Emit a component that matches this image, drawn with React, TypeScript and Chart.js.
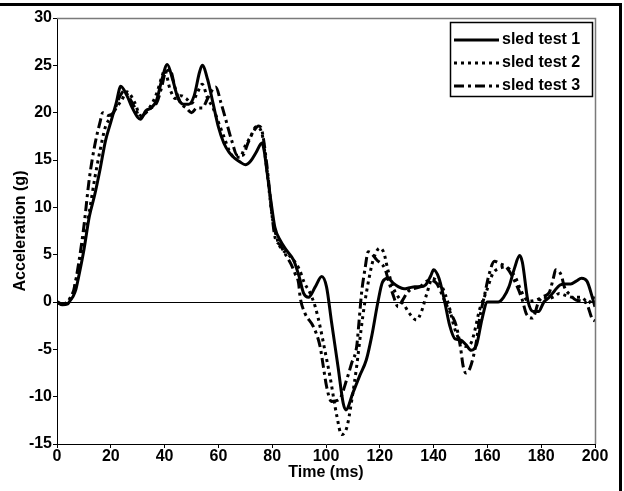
import React, { useEffect, useRef } from "react";
import { Chart, registerables } from "chart.js";

Chart.register(...registerables);

const X_TICKS = [0, 20, 40, 60, 80, 100, 120, 140, 160, 180, 200];
const Y_TICKS = [-15, -10, -5, 0, 5, 10, 15, 20, 25, 30];
const SERIES_LABELS = ["sled test 1", "sled test 2", "sled test 3"];
const X_TITLE = "Time (ms)";
const Y_TITLE = "Acceleration (g)";

// [time (ms), acceleration (g)]
const SLED1: [number, number][] = [
  [0, 0], [2, -0.3], [4, -0.2], [5, 0.2], [6, 0.6], [7, 1.3], [8, 2.6], [10, 5.5], [12, 9], [14, 11.3],
  [16, 14], [18, 17], [20, 19], [22, 21], [23.7, 22.8], [26, 21.8], [28, 20.5], [30, 19.5], [31, 19.3],
  [33, 20.2], [35, 20.5], [37, 21.3], [39, 23.5], [41, 25.1], [43, 23.5], [45, 21.5], [47, 20.9], [49, 20.9],
  [51, 21.8], [53, 24.3], [54, 25], [56, 23.5], [58, 21], [60, 18.5], [62, 16.8], [64, 15.8], [66, 15.2],
  [68, 14.8], [70, 14.5], [72, 14.9], [74, 15.8], [76.2, 16.8], [77, 16], [78, 13.9], [80, 9.7], [81, 7.9],
  [83, 6.5], [85.5, 5.4], [88, 4.4], [90, 2.7], [91.7, 0.9], [93.5, 0.5], [96, 1.6], [98.4, 2.7], [100.2, 1.6],
  [102, -2], [104.5, -6.9], [106.4, -10.7], [107.4, -11.4], [110, -9.6], [112.5, -7.8], [115, -6.1], [117, -3.6],
  [119.3, 0], [121, 2.1], [123, 2.5], [125, 2], [127, 1.6], [129, 1.4], [131, 1.5], [133, 1.6], [135, 1.6],
  [137, 1.8], [139, 2.8], [140, 3.4], [142, 2.5], [144, 0.2], [146, -2.5], [148, -3.9], [150, -4], [152, -4.5],
  [154, -5.1], [156, -4.5], [158, -1.8], [160, 0], [162, 0], [164, 0], [166, 0.5], [168, 1.6], [170, 3.5],
  [172, 4.9], [173, 4.2], [175, 0.2], [177, -1], [179, -1], [181, 0], [183, 0.5], [185, 1.2], [187, 1.8],
  [189, 1.9], [191, 1.9], [193, 2.2], [195, 2.5], [197, 2.2], [199, 0.5], [200, -0.5],
];

const SLED2: [number, number][] = [
  [0, 0], [2, -0.2], [4, 0], [5, 0.3], [6, 1], [8, 3.5], [10, 6.5], [12, 9.5], [14, 13], [16, 16], [18, 18.5],
  [20, 19.5], [22, 20.5], [24, 21.3], [26, 22.2], [27, 22], [29, 21], [31, 19.7], [33, 20], [35, 20.8], [37, 22],
  [39, 23.8], [40, 24.5], [42, 22.5], [44, 21.5], [46, 21.8], [48, 21.5], [50, 21], [52, 22], [54, 23], [56, 21.5],
  [58, 20.5], [60, 19], [62, 17.5], [64, 16], [66, 15.3], [68, 15.3], [70, 16.5], [72, 17.5], [74, 18.5], [76, 18],
  [78, 14], [80, 9], [82, 6.5], [83, 5.8], [86, 5], [88, 4.4], [90, 3.5], [92, 2], [94, 1], [96, -0.5],
  [97.8, -2.6], [99.5, -5], [101.5, -7.9], [104, -12], [105.8, -14], [107.8, -13.2], [109.5, -10.5], [111.4, -6.8],
  [113, -3], [114.4, -0.1], [116, 2.5], [117.5, 4.4], [120, 5.7], [121.5, 5.2], [123, 3.4], [125, 1.5],
  [127.4, 0.3], [129, -0.3], [131, -1.2], [133.6, -1.9], [135.5, -1], [137.5, 0.9], [139.6, 2.5], [141, 2.3],
  [143, 1.7], [145.7, -0.4], [147.5, -2.5], [149.6, -4], [152, -4.7], [154, -4.3], [155.5, -2.8], [157, -0.9],
  [159.5, 1], [162, 3], [164, 3.5], [167, 3.7], [169, 3.2], [170.6, 2.5], [172.5, 1.2], [174.3, 0.3], [176, 0.1],
  [178, 0.2], [181, 0.5], [183, 0.4], [185, 0.6], [186.7, 0.9], [189, 0.7], [191.6, 0.5], [195, 0.5],
  [197.5, -0.1], [199, 0.3], [200, 0.5],
];

const SLED3: [number, number][] = [
  [0, 0], [2, -0.2], [4, 0], [5, 0.5], [6, 1], [8, 4], [10, 8], [12, 13], [14, 16.5], [16, 19], [17, 20],
  [19, 19.7], [21, 20], [23, 21.5], [25, 22.3], [27, 21.5], [29, 20.5], [31, 19.5], [33, 20], [35, 20.5], [37, 21],
  [39, 22.8], [40, 24], [42, 24.5], [44, 22.5], [46, 21], [48, 20.5], [50, 20], [52, 20.5], [54, 20.5], [56, 21.5],
  [58, 22.5], [59, 22.7], [61, 21], [63, 19], [65, 17], [67, 15.5], [69, 15.5], [71, 16.8], [73, 18], [75, 18.6],
  [76, 18.3], [78, 14.5], [80, 9], [81, 6.9], [83, 6], [85, 5], [87, 4], [88.5, 3], [89.8, 2], [90.4, 0.5],
  [92.2, -1.2], [95.3, -2.6], [97.8, -4.7], [99, -6.8], [100.2, -8.9], [102, -10.5], [104.9, -10.3],
  [107.7, -8.2], [109.5, -6.5], [111.4, -4.7], [112.3, -2], [113.2, 0.9], [114.5, 3.5], [115.7, 5.3], [117, 5.1],
  [118.7, 4.5], [121.9, 3.5], [123.5, 2], [125, 0.7], [126.8, -0.5], [128.5, 0.2], [130.5, 1.1], [134.8, 1.6],
  [138.5, 2.3], [141, 2], [142.5, 1.2], [144, 0.2], [146, -1], [148.5, -2.6], [150, -4.8], [151, -6.8],
  [152, -7.5], [153.5, -7], [154.5, -6.1], [156, -4], [157, -1.9], [159, 0.8], [160.7, 3], [162.6, 4.3],
  [165, 4], [167, 3.7], [170, 2.3], [173, 0.2], [174.4, -1.2], [176.8, -1.7], [179, 0], [181, 0.6], [183, 1],
  [184.5, 2.5], [185.4, 3.4], [187.5, 2.8], [188.6, 1.6], [191, 0.7], [193, 0.2], [196.7, -0.1], [199, -1.8],
  [200, -2],
];

const SERIES = [SLED1, SLED2, SLED3];
const DASHES: number[][] = [[], [3, 4], [10, 4, 3, 4]];

const FONT = "'Liberation Sans', Arial, Helvetica, sans-serif";

export default function App() {
  const ref = useRef<HTMLCanvasElement | null>(null);

  useEffect(() => {
    const canvas = ref.current;
    if (!canvas) return;

    const framePlugin = {
      id: "frame",
      afterDraw(chart: any) {
        const { ctx, chartArea: a, width, height } = chart;
        ctx.save();
        // plot top/right border (grey)
        ctx.strokeStyle = "#7a7a7a";
        ctx.lineWidth = 1.5;
        ctx.beginPath();
        ctx.moveTo(a.left, a.top + 0.5);
        ctx.lineTo(a.right + 0.5, a.top + 0.5);
        ctx.lineTo(a.right + 0.5, a.bottom);
        ctx.stroke();
        // outer frame
        ctx.strokeStyle = "#000";
        ctx.lineWidth = 3;
        ctx.beginPath();
        ctx.moveTo(0, 4.5);
        ctx.lineTo(width - 3.5, 4.5);
        ctx.lineTo(width - 3.5, height);
        ctx.stroke();

        // legend
        const bx = 450, by = 22, bw = 142, bh = 74;
        ctx.fillStyle = "#fff";
        ctx.fillRect(bx, by, bw, bh);
        ctx.strokeStyle = "#000";
        ctx.lineWidth = 1.5;
        ctx.strokeRect(bx + 0.5, by + 0.5, bw, bh);
        ctx.font = `bold 16px ${FONT}`;
        ctx.textBaseline = "middle";
        ctx.textAlign = "left";
        chart.data.datasets.forEach((ds: any, i: number) => {
          const y = by + 18 + i * 23;
          ctx.beginPath();
          ctx.lineWidth = ds.borderWidth;
          ctx.setLineDash(ds.borderDash || []);
          ctx.strokeStyle = "#000";
          ctx.moveTo(bx + 4, y);
          ctx.lineTo(bx + 49, y);
          ctx.stroke();
          ctx.setLineDash([]);
          ctx.fillStyle = "#000";
          ctx.fillText(ds.label, bx + 52, y);
        });
        ctx.restore();
      },
    };

    const tickFont = { family: FONT, size: 16, weight: "bold" as const };

    const chart = new Chart(canvas, {
      type: "line",
      data: {
        datasets: SERIES.map((s, i) => ({
          label: SERIES_LABELS[i],
          data: s.map(([x, y]) => ({ x, y })),
          borderColor: "#000",
          backgroundColor: "#000",
          borderWidth: 3,
          borderDash: DASHES[i],
          pointRadius: 0,
          fill: false,
          cubicInterpolationMode: "monotone",
        })),
      },
      options: {
        responsive: false,
        animation: false,
        devicePixelRatio: 1,
        layout: { padding: { left: 0, right: 29, top: 18, bottom: 0 } },
        plugins: { legend: { display: false }, tooltip: { enabled: false } },
        scales: {
          x: {
            type: "linear",
            min: 0,
            max: 200,
            afterBuildTicks: (s: any) => {
              s.ticks = X_TICKS.map((v) => ({ value: v }));
            },
            afterFit: (s: any) => {
              s.height = 47;
            },
            grid: { drawOnChartArea: false, tickLength: 4, tickColor: "#000" },
            border: { color: "#000", width: 1 },
            ticks: {
              color: "#000",
              font: tickFont,
              padding: -1,
              maxRotation: 0,
              autoSkip: false,
            },
            title: {
              display: true,
              text: X_TITLE,
              color: "#000",
              font: tickFont,
              padding: { top: 0, bottom: 9 },
            },
          },
          y: {
            type: "linear",
            min: -15,
            max: 30,
            afterBuildTicks: (s: any) => {
              s.ticks = Y_TICKS.map((v) => ({ value: v }));
            },
            afterFit: (s: any) => {
              s.width = 57;
            },
            grid: {
              color: (c: any) => (c.tick && c.tick.value === 0 ? "#000" : "rgba(0,0,0,0)"),
              tickColor: "#000",
              tickLength: 4,
              lineWidth: 1,
            },
            border: { color: "#000", width: 1 },
            ticks: {
              color: "#000",
              font: tickFont,
              padding: 1,
            },
            title: {
              display: true,
              text: Y_TITLE,
              color: "#000",
              font: tickFont,
              padding: { top: 11, bottom: 0 },
            },
          },
        },
      },
      plugins: [framePlugin],
    } as any);

    return () => chart.destroy();
  }, []);

  return (
    <div style={{ position: "fixed", left: 0, top: 0, width: 624, height: 491, background: "#fff" }}>
      <canvas ref={ref} width={624} height={491} style={{ display: "block", width: 624, height: 491 }} />
    </div>
  );
}
